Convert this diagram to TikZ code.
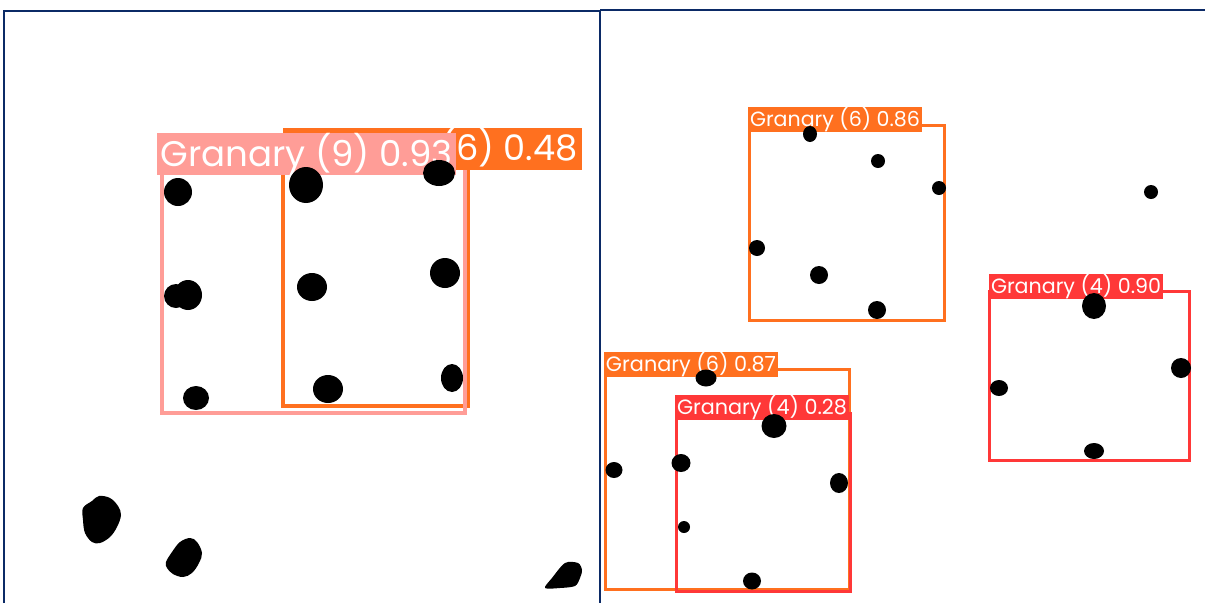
\documentclass[tikz,border=0pt]{standalone}
\usepackage{fontspec}
\usepackage{graphicx}
\newfontfamily\labfont{Poppins}
\definecolor{navy}{HTML}{0B2A66}
\definecolor{ypink}{HTML}{FF9D97}
\definecolor{yorange}{HTML}{FF701F}
\definecolor{yred}{HTML}{FF3838}
\newcommand\lbltxt[2]{\resizebox{#1pt}{!}{\labfont #2}}
\tikzset{
  frame/.style={draw=navy, line width=2},
  bigbox/.style={line width=4.5},
  smallbox/.style={line width=3},
  lab/.style={inner sep=0, outer sep=0, text=white, anchor=north west},
  dot/.style={fill=black},
}
\begin{document}
\begin{tikzpicture}[x=1pt,y=-1pt]
\useasboundingbox (0,0) rectangle (1205,603);
\fill[white] (0,0) rectangle (1205,603);
% panel frames
\draw[frame] (4,603) -- (4,11) -- (600,11) -- (600,603);
\draw[frame] (600,10) -- (1205,10);

% ---------- left panel ----------
\draw[yorange, bigbox] (283,163) rectangle (468,406);
\draw[ypink, bigbox] (162,163) rectangle (465,413);
\node[lab, fill=yorange, minimum width=299, minimum height=29] (lo) at (283,128) {\lbltxt{290}{Granary (6) 0.48}};
\node[lab, fill=ypink, minimum width=299, minimum height=32] (lp) at (157,133) {\lbltxt{292}{Granary (9) 0.93}};

\fill[dot] (178,192) ellipse (14 and 14);
\fill[dot] (306,185) ellipse (17 and 18);
\fill[dot] (439,173) ellipse (16 and 13);
\fill[dot] (176,296) circle (12);
\fill[dot] (188,295) ellipse (14 and 15);
\fill[dot] (312,287) ellipse (15 and 14);
\fill[dot] (445,273) ellipse (15 and 15);
\fill[dot] (196,398) ellipse (13 and 12);
\fill[dot] (328,389) ellipse (15 and 14);
\fill[dot] (452,378) ellipse (11 and 14);

\fill[dot] plot[smooth cycle, tension=0.6] coordinates {(83,508) (92,501) (99,496) (110,498) (118,506) (121,515) (117,527) (110,537) (100,543) (92,542) (85,533) (83,520)};
\fill[dot] plot[smooth cycle, tension=0.6] coordinates {(166,562) (172,552) (180,542) (190,538) (197,542) (202,553) (199,563) (192,573) (183,577) (173,574) (167,568)};
\fill[dot] plot[smooth cycle, tension=0.5] coordinates {(545,588) (552,578) (565,563) (578,563) (582,570) (580,578) (575,586) (560,588)};

% ---------- right panel ----------
\draw[yorange, smallbox] (749,125) rectangle (944,320);
\node[lab, fill=yorange, minimum width=174, minimum height=18] (l86) at (748,107) {\lbltxt{170}{Granary (6) 0.86}};

\draw[yred, smallbox] (989,291) rectangle (1189,460);
\node[lab, fill=yred, minimum width=174, minimum height=18] (l90) at (989,274) {\lbltxt{170}{Granary (4) 0.90}};

\draw[yorange, smallbox] (605,369) rectangle (849,589);
\node[lab, fill=yorange, minimum width=174, minimum height=17] (l87) at (604,352) {\lbltxt{170}{Granary (6) 0.87}};

\draw[yred, smallbox] (676,413) rectangle (850,591);
\node[lab, fill=yred, minimum width=174, minimum height=18] (l28) at (675,395) {\lbltxt{170}{Granary (4) 0.28}};

% dots right panel
\fill[dot] (810,134) ellipse (7 and 8);
\fill[dot] (878,161) circle (7);
\fill[dot] (939,188) circle (7);
\fill[dot] (757,248) circle (8);
\fill[dot] (819,275) circle (9);
\fill[dot] (877,310) circle (9);
\fill[dot] (1151,192) circle (7);

\fill[dot] (1094,306) ellipse (12 and 13);
\fill[dot] (1181,368) circle (10);
\fill[dot] (999,388) ellipse (9 and 8);
\fill[dot] (1094,451) ellipse (10 and 8);

\fill[dot] (706,378) ellipse (10.5 and 8.5);
\fill[dot] (774,426) ellipse (12.5 and 12);
\fill[dot] (614,470) ellipse (8.5 and 8);
\fill[dot] (681,463) ellipse (9.5 and 9);
\fill[dot] (839,483) ellipse (9 and 10);
\fill[dot] (684,527) circle (6);
\fill[dot] (752,581) ellipse (9 and 8.5);
\draw[yred, smallbox] (676,591) -- (850,591);
\end{tikzpicture}
\end{document}
